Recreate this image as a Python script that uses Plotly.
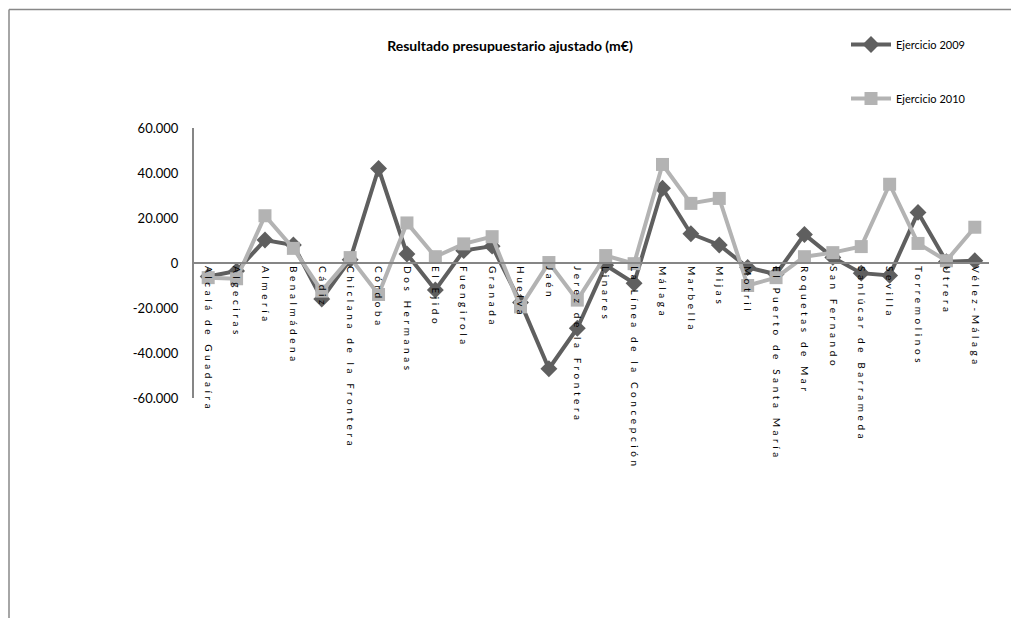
import plotly.graph_objects as go

categories = [
    "Alcalá de Guadaíra", "Algeciras", "Almería", "Benalmádena", "Cádiz",
    "Chiclana de la Frontera", "Córdoba", "Dos Hermanas", "El Ejido", "Fuengirola",
    "Granada", "Huelva", "Jaén", "Jerez de la Frontera", "Linares",
    "La Línea de la Concepción", "Málaga", "Marbella", "Mijas", "Motril",
    "El Puerto de Santa María", "Roquetas de Mar", "San Fernando",
    "Sanlúcar de Barrameda", "Sevilla", "Torremolinos", "Utrera", "Vélez-Málaga",
]

ejercicio_2009 = [
    -6000, -3500, 10200, 8000, -16000,
    1500, 42000, 4000, -12000, 5500,
    7500, -17500, -47000, -29000, -1000,
    -9000, 33200, 13000, 8000, -2000,
    -5000, 12700, 2500, -4500, -5500,
    22500, 600, 1000,
]

ejercicio_2010 = [
    -6500, -7000, 21000, 6500, -12500,
    2400, -14000, 17800, 2800, 8500,
    11700, -19500, 200, -16500, 3300,
    -300, 43800, 26500, 28700, -10000,
    -6500, 2800, 4600, 7300, 35000,
    8700, 1000, 15900,
]

y_tick_vals = [60000, 40000, 20000, 0, -20000, -40000, -60000]
y_tick_text = ["60.000", "40.000", "20.000", "0", "-20.000", "-40.000", "-60.000"]

W, H = 1012, 618
L, R, T, B = 194, 23, 128, 220
pw, ph = W - L - R, H - T - B


def px_x(px):
    return (px - L) / pw


def px_y(py):
    return (H - B - py) / ph


dark = "#5f5f5f"
light = "#b3b3b3"
font_family = "Lato, 'Open Sans', sans-serif"

fig = go.Figure()
fig.add_trace(go.Scatter(
    x=categories, y=ejercicio_2009, mode="lines+markers", name="Ejercicio 2009",
    legendgroup="a",
    line=dict(color=dark, width=4),
    marker=dict(symbol="diamond", size=13, color=dark),
))
fig.add_trace(go.Scatter(
    x=categories, y=ejercicio_2010, mode="lines+markers", name="Ejercicio 2010",
    legendgroup="b",
    line=dict(color=light, width=4),
    marker=dict(symbol="square", size=13, color=light),
))

fig.update_layout(
    width=W, height=H,
    margin=dict(l=L, r=R, t=T, b=B, pad=0),
    paper_bgcolor="white", plot_bgcolor="white",
    font=dict(family=font_family, color="#000000"),
    title=dict(
        text="<b>Resultado presupuestario ajustado (m€)</b>",
        x=510 / W, xanchor="center", xref="container",
        y=1 - 46 / H, yanchor="middle", yref="container",
        font=dict(size=14, family=font_family, color="#000000"),
    ),
    showlegend=True,
    legend=dict(
        x=px_x(846), xanchor="left",
        y=px_y(30), yanchor="top",
        font=dict(size=11, family=font_family),
        tracegroupgap=35,
        bgcolor="rgba(0,0,0,0)",
        itemwidth=40,
    ),
    xaxis=dict(
        type="category",
        range=[-0.5, len(categories) - 0.5],
        anchor="free", position=0.5,
        showline=True, linecolor="#868686", linewidth=2,
        showgrid=False, zeroline=False,
        ticks="", tickangle=90,
        tickfont=dict(size=10, family=font_family, color="#000000"),
        ticklabelstandoff=0,
    ),
    yaxis=dict(
        range=[-60000, 60000],
        tickvals=y_tick_vals, ticktext=y_tick_text,
        showline=True, linecolor="#868686", linewidth=2,
        showgrid=False, zeroline=False,
        ticks="",
        ticklabelstandoff=11,
        tickfont=dict(size=13, family=font_family, color="#000000"),
    ),
    shapes=[
        dict(type="line", xref="paper", yref="paper",
             x0=px_x(9), x1=px_x(9), y0=px_y(9.5), y1=px_y(H + 20),
             line=dict(color="#888888", width=1.5)),
        dict(type="line", xref="paper", yref="paper",
             x0=px_x(9), x1=px_x(1011), y0=px_y(9.5), y1=px_y(9.5),
             line=dict(color="#888888", width=1.5)),
    ],
)

post_script = (
    "document.body.style.margin='0';"
    "document.querySelectorAll('.xtick text').forEach(function(t){"
    "t.style.letterSpacing='3.6px';});"
)

fig.write_html("out.html", post_script=post_script,
               config={"displayModeBar": False})
